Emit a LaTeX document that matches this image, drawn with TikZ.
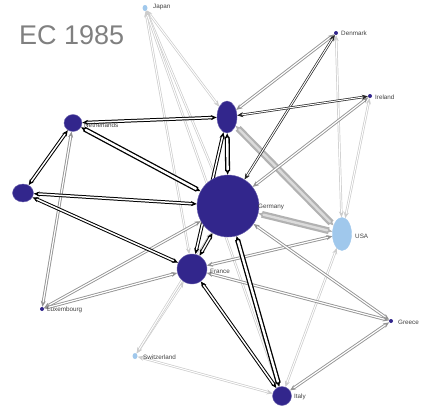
\documentclass[tikz,border=0pt]{standalone}
\usepackage{fontspec}
\setmainfont{Liberation Sans}
\usetikzlibrary{shapes.geometric,arrows.meta}
\pgfdeclarelayer{edges}
\pgfsetlayers{edges,main}
\definecolor{ind}{RGB}{50,38,140}
\definecolor{lb}{RGB}{160,200,236}
\definecolor{ttl}{RGB}{128,128,128}
\tikzset{
  big/.style={ellipse, fill=ind, draw=ind!70, inner sep=0pt},
  lbl/.style={ellipse, fill=lb, draw=lb, inner sep=0pt},
  dot/.style={ellipse, fill=ind, inner sep=0pt, minimum width=4pt, minimum height=4pt},
  ldot/.style={ellipse, fill=lb, inner sep=0pt, minimum width=5pt, minimum height=6pt},
  nm/.style={anchor=west, font=\fontsize{6.3}{7}\selectfont, text=black!75, inner sep=0pt},
  ed/.style={double=white, arrows={Stealth[length=6pt,width=5pt]-Stealth[length=6pt,width=5pt]}},
  bkT/.style={ed, draw=black, line width=1.3pt, double distance=2.4pt},
  bk/.style={ed, draw=black, line width=1pt, double distance=1.5pt},
  bkt/.style={ed, draw=black!85, line width=0.7pt, double distance=1pt},
  gyT/.style={ed, draw=black!30, double=black!14, line width=2.2pt, double distance=2.4pt},
  gy/.style={ed, draw=black!42, line width=0.9pt, double distance=1.2pt},
  lt/.style={ed, draw=black!20, line width=0.7pt, double distance=1pt},
}
\begin{document}
\begin{tikzpicture}[x=1pt,y=-1pt]
\useasboundingbox (0,0) rectangle (421,407);
\node[anchor=west, text=ttl, font=\fontsize{27}{30}\selectfont, inner sep=0pt] (title) at (19,35) {EC 1985};
% nodes
\node[big, minimum width=62pt, minimum height=62pt] (ger) at (228,206) {};
\node[big, minimum width=20pt, minimum height=32pt] (uk) at (227,117) {};
\node[big, minimum width=18pt, minimum height=17pt] (net) at (73,123) {};
\node[big, minimum width=21pt, minimum height=18pt] (bel) at (23,193) {};
\node[big, minimum width=30pt, minimum height=30pt] (fra) at (192,269) {};
\node[big, minimum width=19pt, minimum height=19pt] (ita) at (282,396) {};
\node[lbl, minimum width=19pt, minimum height=33pt] (usa) at (342,234) {};
\node[dot] (den) at (336,33) {};
\node[dot] (ire) at (370,96) {};
\node[dot] (gre) at (391,321) {};
\node[dot] (lux) at (42,309) {};
\node[ldot] (jap) at (145,8) {};
\node[ldot] (swi) at (135,356) {};
\begin{pgfonlayer}{edges}
% edges light
\draw[lt] (jap) -- (uk);
\draw[lt] (jap) -- (ger);
\draw[lt] (jap) -- (fra);
\draw[lt] (jap) -- (ita);
\draw[lt] (den) -- (usa);
\draw[lt] (ire) -- (usa);
\draw[lt] (swi) -- (fra);
\draw[lt] (swi) -- (ger);
\draw[lt] (swi) -- (ita);
\draw[lt] (usa) -- (ita);
% edges gray
\draw[gyT] (ger) -- (usa);
\draw[gyT] (uk) -- (usa);
\draw[gy] (den) -- (uk);
\draw[gy] (ire) -- (ger);
\draw[gy] (lux) -- (net);
\draw[gy] (lux) -- (ger);
\draw[gy] (lux) -- (fra);
\draw[gy] (usa) -- (fra);
\draw[gy] (gre) -- (ger);
\draw[gy] (gre) -- (fra);
\draw[gy] (gre) -- (ita);
% edges black
\draw[bkt] (den) -- (ger);
\draw[bkt] (ire) -- (uk);
\draw[bk] (net) -- (uk);
\draw[bk] (net) -- (bel);
\draw[bk] (bel) -- (ger);
\draw[bk] (bel) -- (fra);
\draw[bk] (uk) -- (fra);
\draw[bk] (fra) -- (ger);
\draw[bk] (fra) -- (ita);
\draw[bkT] (net) -- (ger);
\draw[bkT] (uk) -- (ger);
\draw[bkT] (ger) -- (ita);
\end{pgfonlayer}
% labels
\node[nm] (ljap) at (153,7) {Japan};
\node[nm] (lden) at (341,33) {Denmark};
\node[nm] (lire) at (375,97) {Ireland};
\node[nm] (lnet) at (84,125) {Netherlands};
\node[nm] (lger) at (258,207) {Germany};
\node[nm] (lusa) at (355,236) {USA};
\node[nm] (lfra) at (210,271) {France};
\node[nm] (lgre) at (398,322) {Greece};
\node[nm] (lita) at (294,397) {Italy};
\node[nm] (lswi) at (143,357) {Switzerland};
\node[nm] (llux) at (47,310) {Luxembourg};
\end{tikzpicture}
\end{document}
